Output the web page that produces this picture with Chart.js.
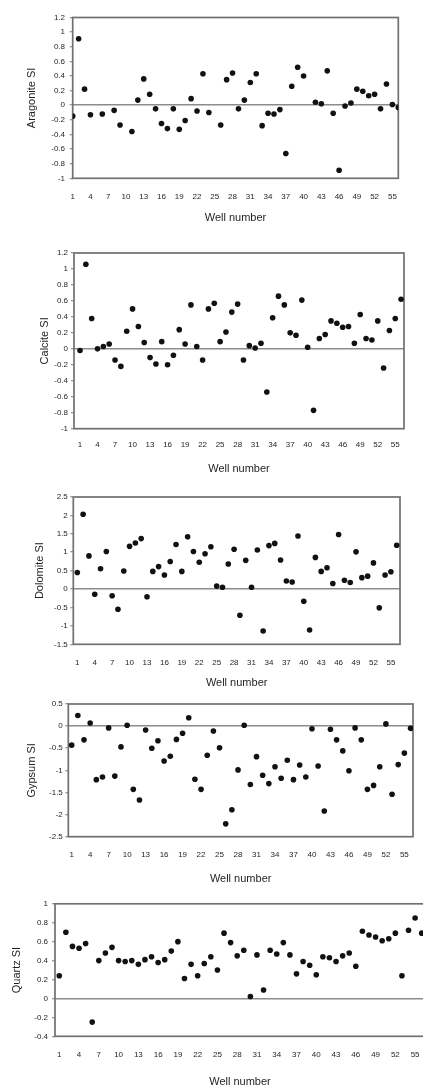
<!DOCTYPE html>
<html>
<head>
<meta charset="utf-8">
<script src="https://cdn.jsdelivr.net/npm/chart.js@4.4.1/dist/chart.umd.min.js"></script>
<style>
  html, body { margin: 0; padding: 0; background: #fff; }
  body { width: 423px; height: 1087px; position: relative; overflow: hidden; }
  canvas { position: absolute; left: 0; }
</style>
</head>
<body>
<canvas id="aragonite"></canvas>
<canvas id="calcite"></canvas>
<canvas id="dolomite"></canvas>
<canvas id="gypsum"></canvas>
<canvas id="quartz"></canvas>
<script>
// well numbers 1..56 and the labelled ticks
const wells = [1,2,3,4,5,6,7,8,9,10,11,12,13,14,15,16,17,18,19,20,21,22,23,24,25,26,27,28,
  29,30,31,32,33,34,35,36,37,38,39,40,41,42,43,44,45,46,47,48,49,50,51,52,53,54,55,56];
const wellTicks = [1,4,7,10,13,16,19,22,25,28,31,34,37,40,43,46,49,52,55];

// saturation indices (null = no point)
const aragoniteSI = [-0.15,0.91,0.22,-0.13,null,-0.12,null,-0.07,-0.27,null,-0.36,0.07,0.36,0.15,-0.05,-0.25,-0.32,-0.05,-0.33,-0.21,
  0.09,-0.08,0.43,-0.10,null,-0.27,0.35,0.44,-0.05,0.07,0.31,0.43,-0.28,-0.11,-0.12,-0.06,-0.66,0.26,0.52,0.40,
  null,0.04,0.02,0.47,-0.11,-0.89,-0.01,0.03,0.22,0.19,0.13,0.15,-0.05,0.29,0.01,-0.03];
const calciteSI = [-0.02,1.06,0.38,0.0,0.03,0.06,-0.14,-0.22,0.22,0.50,0.28,0.08,-0.11,-0.19,0.09,-0.20,-0.08,0.24,0.06,0.55,
  0.03,-0.14,0.50,0.57,0.09,0.21,0.46,0.56,-0.14,0.04,0.01,0.07,-0.54,0.39,0.66,0.55,0.20,0.17,0.61,0.02,
  -0.77,0.13,0.18,0.35,0.32,0.27,0.28,0.07,0.43,0.13,0.11,0.35,-0.24,0.23,0.38,0.62];
const dolomiteSI = [0.45,2.03,0.90,-0.14,0.55,1.02,-0.18,-0.55,0.49,1.16,1.25,1.37,-0.21,0.48,0.61,0.38,0.75,1.21,0.48,1.42,
  1.02,0.73,0.96,1.15,0.08,0.05,0.68,1.08,-0.71,0.78,0.05,1.06,-1.14,1.18,1.24,0.79,0.22,0.19,1.44,-0.33,
  -1.11,0.86,0.48,0.58,0.15,1.48,0.24,0.18,1.01,0.31,0.35,0.71,-0.51,0.38,0.47,1.19];
const gypsumSI = [-0.43,0.24,-0.31,0.07,-1.21,-1.15,-0.04,-1.13,-0.47,0.02,-1.43,-1.67,-0.09,-0.50,-0.33,-0.79,-0.68,-0.30,-0.16,0.19,
  -1.20,-1.43,-0.66,-0.11,-0.49,-2.21,-1.89,-0.99,0.02,-1.32,-0.69,-1.11,-1.30,-0.92,-1.18,-0.77,-1.21,-0.88,-1.15,-0.06,
  -0.90,-1.92,-0.07,-0.31,-0.56,-1.01,-0.04,-0.31,-1.43,-1.34,-0.92,0.05,-1.54,-0.87,-0.61,-0.05];
const quartzSI = [0.24,0.70,0.55,0.53,0.58,-0.25,0.40,0.48,0.54,0.40,0.39,0.40,0.36,0.41,0.44,0.38,0.41,0.50,0.60,0.21,
  0.36,0.24,0.37,0.44,0.30,0.69,0.59,0.45,0.51,0.02,0.46,0.09,0.51,0.47,0.59,0.46,0.26,0.39,0.35,0.25,
  0.44,0.43,0.39,0.45,0.48,0.34,0.71,0.67,0.65,0.61,0.63,0.69,0.24,0.72,0.85,0.69];

const textColor = '#1f1f1f';
const fontFamily = '"Liberation Sans", Arial, sans-serif';

const boxPlugin = {
  id: 'box',
  beforeDatasetsDraw(chart) {
    const { ctx, chartArea: a } = chart;
    ctx.save();
    ctx.strokeStyle = '#707070';
    ctx.lineWidth = 1.7;
    ctx.strokeRect(a.left, a.top, a.right - a.left, a.bottom - a.top);
    ctx.restore();
  }
};

// L/R/T/B = plot box, lab = x label centre, ttl = x title centre, ytx = y title centre, ypad = y label gap
const panels = [
  { id: 'aragonite', title: 'Aragonite SI', values: aragoniteSI, min: -1, max: 1.2, step: 0.2,
    L: 72.7, R: 398.3, T: 16, B: 178.3, xmin: 1, xmax: 56, lab: 197, ttl: 218, ytx: 32, ypad: 4.7, cw: 423 },
  { id: 'calcite', title: 'Calcite SI', values: calciteSI, min: -1, max: 1.2, step: 0.2,
    L: 74, R: 404, T: 253.3, B: 429, xmin: -0.03, xmax: 56.5, lab: 445, ttl: 470, ytx: 45, ypad: 3, cw: 423 },
  { id: 'dolomite', title: 'Dolomite SI', values: dolomiteSI, min: -1.5, max: 2.5, step: 0.5,
    L: 73.3, R: 400, T: 496.7, B: 644, xmin: 0.31, xmax: 56.57, lab: 662, ttl: 683, ytx: 40, ypad: 2.5, cw: 423 },
  { id: 'gypsum', title: 'Gypsum SI', values: gypsumSI, min: -2.5, max: 0.5, step: 0.5,
    L: 68.3, R: 413, T: 704, B: 836.7, xmin: 0.45, xmax: 56.4, lab: 855, ttl: 879, ytx: 32, ypad: 2.5, cw: 423 },
  { id: 'quartz', title: 'Quartz SI', values: quartzSI, min: -0.4, max: 1, step: 0.2,
    L: 55, R: 425, T: 903, B: 1036.3, xmin: 0.35, xmax: 56.5, lab: 1055, ttl: 1082, ytx: 17, ypad: 4, cw: 440 }
];

function drawPanel(p) {
  const canvas = document.getElementById(p.id);
  const top = p.T - 8;
  const h = Math.round(p.ttl + 8.6 - top);
  canvas.width = p.cw;
  canvas.height = h;
  canvas.style.width = p.cw + 'px';
  canvas.style.height = h + 'px';
  canvas.style.top = top + 'px';
  const xHeight = h - 8 - (p.B - p.T);

  new Chart(canvas, {
    type: 'scatter',
    data: {
      datasets: [{
        data: wells.map((w, i) => ({ x: w, y: p.values[i] })).filter(d => d.y !== null),
        pointRadius: 2.8,
        pointBackgroundColor: '#111',
        pointBorderWidth: 0
      }]
    },
    options: {
      responsive: false,
      animation: false,
      layout: { padding: { top: 8, left: 0, right: p.cw - p.R, bottom: 0 } },
      plugins: { legend: { display: false }, tooltip: { enabled: false } },
      scales: {
        x: {
          type: 'linear',
          min: p.xmin,
          max: p.xmax,
          afterBuildTicks: axis => { axis.ticks = wellTicks.map(v => ({ value: v })); },
          afterFit: s => { s.height = xHeight; },
          grid: { drawOnChartArea: false, drawTicks: false },
          border: { display: false },
          ticks: { padding: p.lab - p.B - 4.8, color: textColor, font: { family: fontFamily, size: 8 }, maxRotation: 0, autoSkip: false },
          title: { display: true, text: 'Well number', color: textColor, font: { family: fontFamily, size: 11 }, padding: { top: 0, bottom: 2 } }
        },
        y: {
          min: p.min,
          max: p.max,
          afterFit: s => { s.width = p.L; },
          grid: {
            color: c => (c.tick && Math.abs(c.tick.value) < 1e-9 ? '#8c8c8c' : 'rgba(0,0,0,0)'),
            lineWidth: 1.5,
            tickColor: '#7a7a7a',
            tickWidth: 1,
            tickLength: 3
          },
          border: { display: false },
          ticks: {
            stepSize: p.step,
            padding: p.ypad,
            color: textColor,
            font: { family: fontFamily, size: 8 },
            callback: v => String(Math.round(v * 10) / 10)
          },
          title: { display: true, text: p.title, color: textColor, font: { family: fontFamily, size: 11 }, padding: { top: p.ytx - 6.6, bottom: 0 } }
        }
      }
    },
    plugins: [boxPlugin]
  });
}

panels.forEach(drawPanel);
</script>
</body>
</html>
